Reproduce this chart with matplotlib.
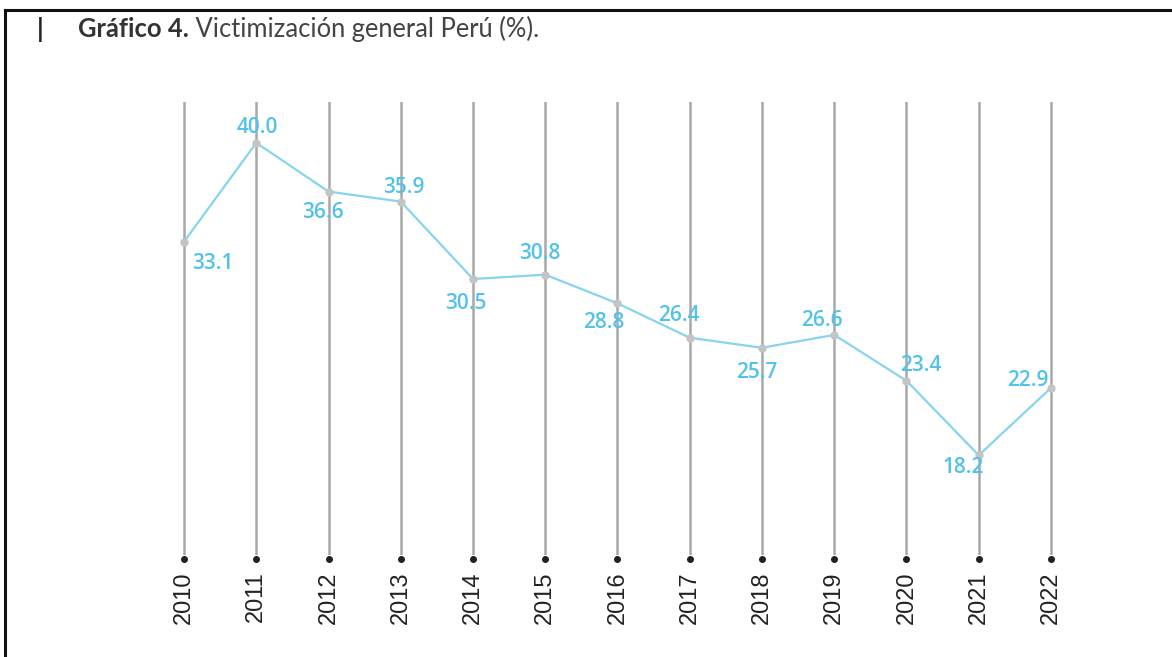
import matplotlib
matplotlib.use("Agg")
import matplotlib.pyplot as plt
from matplotlib.lines import Line2D
from matplotlib import transforms

years = [2010, 2011, 2012, 2013, 2014, 2015, 2016, 2017, 2018, 2019, 2020, 2021, 2022]
values = [33.1, 40.0, 36.6, 35.9, 30.5, 30.8, 28.8, 26.4, 25.7, 26.6, 23.4, 18.2, 22.9]
labels = ["33.1", "40.0", "36.6", "35.9", "30.5", "30.8", "28.8", "26.4", "25.7", "26.6", "23.4", "18.2", "22.9"]
# label offsets (points) relative to each point
offsets = [(21, -16), (1, 11), (-4, -15), (2, 10), (-5, -18), (-4, 15), (-10, -14),
           (-8, 16), (-4, -18), (-9, 10), (10, 11), (-11, -9), (-17, 5)]

title_bold = "Gráfico 4."
title_rest = " Victimización general Perú (%)."

W, H = 1172, 657
fig = plt.figure(figsize=(W / 100, H / 100), dpi=100)
fig.patch.set_facecolor("white")

left_px, right_px = 147.9, 1087.1
top_px, bot_px = 102, 555
ax = fig.add_axes([left_px / W, 1 - bot_px / H, (right_px - left_px) / W, (bot_px - top_px) / H])
ax.set_xlim(2009.5, 2022.5)
ax.set_ylim(11.24, 42.85)
for s in ax.spines.values():
    s.set_visible(False)
ax.set_yticks([])
ax.set_facecolor("none")

# vertical grid lines
for yr in years:
    ax.axvline(yr, ymin=0, ymax=1, color="#a8a8a8", lw=1.8, zorder=1)

# bottom dots
trans = transforms.blended_transform_factory(ax.transData, ax.transAxes)
ax.plot(years, [-4 / (bot_px - top_px)] * len(years), "o", ms=4, color="#222222",
        transform=trans, clip_on=False, zorder=3)

# line
ax.plot(years, values, color="#86d4f0", lw=1.6, zorder=2)
ax.plot(years, values, "o", ms=5, color="#c4c4c4", zorder=3, clip_on=False)

for x, v, t, (dx, dy) in zip(years, values, labels, offsets):
    ax.annotate(t, (x, v), xytext=(dx, dy), textcoords="offset points",
                ha="center", va="center", fontsize=15, color="#52c2ed",
                family="Open Sans", fontweight="semibold", zorder=4)

ax.set_xticks(years)
ax.set_xticklabels([str(y) for y in years], rotation=90, fontsize=17,
                   family="Liberation Sans", color="#222222")
ax.tick_params(axis="x", length=0, pad=12)

# title
fig.text(40 / W, 1 - 29 / H, "|", fontsize=18.4, fontweight="bold", family="Lato",
         color="#222222", va="center", ha="center")
t1 = fig.text(78 / W, 1 - 29 / H, title_bold, fontsize=18.4, fontweight="bold",
              family="Lato", color="#333333", va="center", ha="left")
fig.canvas.draw()
bb = t1.get_window_extent()
fig.text(bb.x1 / W, 1 - 29 / H, title_rest, fontsize=18.4, family="Lato",
         color="#444444", va="center", ha="left")

# frame lines
fig.add_artist(Line2D([4.5 / W, 1], [1 - 10 / H, 1 - 10 / H], color="#111111", lw=2.2,
                      transform=fig.transFigure))
fig.add_artist(Line2D([4.5 / W, 4.5 / W], [0, 1 - 10 / H], color="#111111", lw=2.2,
                      transform=fig.transFigure))

fig.savefig("out.png", dpi=100)
